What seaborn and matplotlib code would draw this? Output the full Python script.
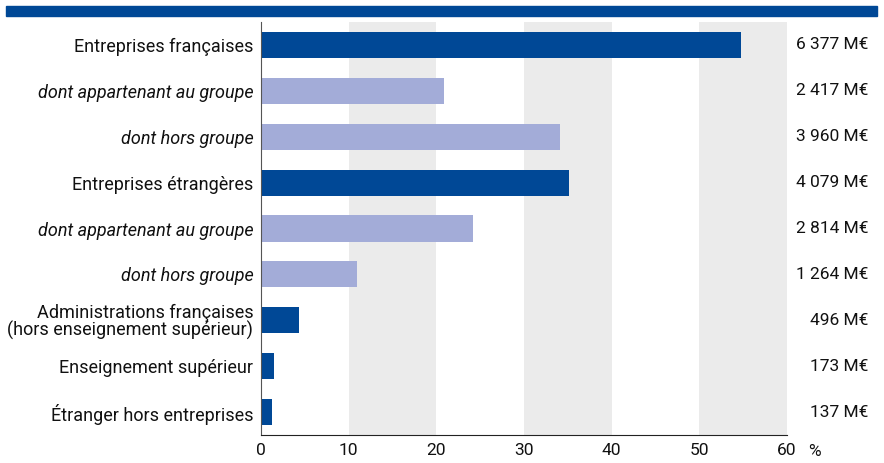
import matplotlib.pyplot as plt
import matplotlib.patches as mpatches
import seaborn as sns
import pandas as pd

# Data
categories = [
    "Entreprises françaises",
    "dont appartenant au groupe",
    "dont hors groupe",
    "Entreprises étrangères",
    "dont appartenant au groupe",
    "dont hors groupe",
    "Administrations françaises\n(hors enseignement supérieur)",
    "Enseignement supérieur",
    "Étranger hors entreprises",
]
shares = [54.7, 20.9, 34.1, 35.1, 24.2, 10.9, 4.3, 1.5, 1.2]
amounts = ["6 377 M€", "2 417 M€", "3 960 M€", "4 079 M€", "2 814 M€",
           "1 264 M€", "496 M€", "173 M€", "137 M€"]
is_sub = [False, True, True, False, True, True, False, False, False]

dark = "#004896"
light = "#a3acd8"

sns.set_style("white")
plt.rcParams['font.family'] = ['Roboto', 'DejaVu Sans']

df = pd.DataFrame({"cat": range(len(categories)), "share": shares,
                   "kind": ["sub" if s else "main" for s in is_sub]})

fig = plt.figure(figsize=(8.84, 4.63), dpi=100)
ax = fig.add_axes([261 / 884, 28 / 463, 526 / 884, 413 / 463])

# grey bands
for lo in (10, 30, 50):
    ax.axvspan(lo, lo + 10, color="#ebebeb", zorder=0, lw=0)

sns.barplot(data=df, y="cat", x="share", hue="kind", orient="h",
            palette={"main": dark, "sub": light}, width=0.57, saturation=1,
            linewidth=0, dodge=False, legend=False, ax=ax, zorder=2)

ax.set_xlim(0, 60)
ax.set_ylim(8.5, -0.5)
ax.set_xticks(range(0, 61, 10))
ax.set_yticks(range(len(categories)))
ax.set_yticklabels(categories, fontsize=13, linespacing=0.95)
for lbl, sub in zip(ax.get_yticklabels(), is_sub):
    if sub:
        lbl.set_style("italic")
ax.tick_params(axis="x", direction="in", length=5, labelsize=12.5, pad=6,
               color="#222222", labelcolor="#111111")
ax.tick_params(axis="y", length=0, pad=5.5, labelcolor="#111111")
ax.set_xlabel("")
ax.set_ylabel("")
for side in ("top", "right"):
    ax.spines[side].set_visible(False)
ax.spines["left"].set_color("#555555")
ax.spines["bottom"].set_color("#222222")

for i, a in enumerate(amounts):
    ax.text((868 - 261) / 526, i, a, transform=ax.get_yaxis_transform(),
            fontsize=12.5, ha="right", va="center", color="#111111")

ax.text((814 - 261) / 526, -(452 - 435) / 413, "%", transform=ax.transAxes,
        fontsize=12.5, ha="center", va="center", color="#111111")

fig.patches.append(mpatches.Rectangle((6 / 884, 447 / 463), 871 / 884, 10 / 463,
                                      transform=fig.transFigure, color=dark))

fig.savefig("out.png", dpi=100)
